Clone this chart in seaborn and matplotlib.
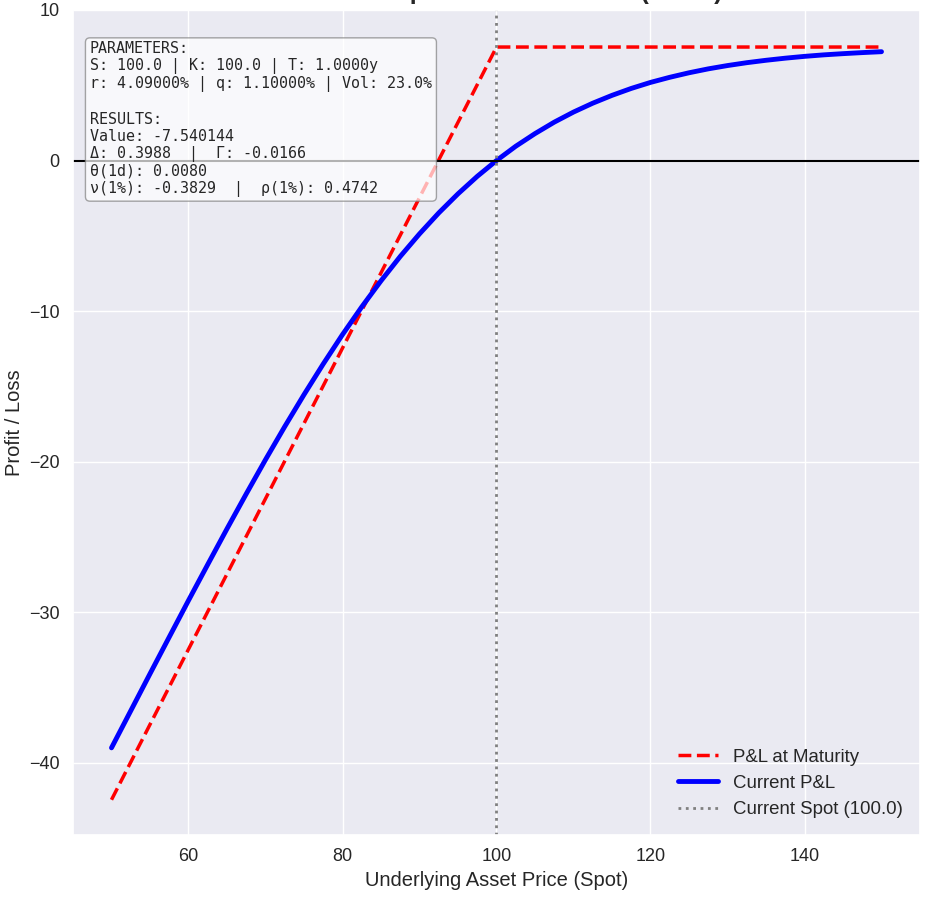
import numpy as np
import pandas as pd
import seaborn as sns
import matplotlib.pyplot as plt

# spot grid and P&L values
spot = [50, 52.5, 55, 57.5, 60, 62.5, 65, 67.5, 70, 72.5, 75, 77.5, 80, 82.5,
        85, 87.5, 90, 92.5, 95, 97.5, 100, 102.5, 105, 107.5, 110, 112.5, 115,
        117.5, 120, 122.5, 125, 127.5, 130, 132.5, 135, 137.5, 140, 142.5, 145,
        147.5, 150]
pnl_now = [-39.01, -36.55, -34.09, -31.65, -29.22, -26.83, -24.46, -22.14, -19.87,
           -17.67, -15.55, -13.51, -11.56, -9.72, -7.99, -6.37, -4.87, -3.48,
           -2.21, -1.05, 0.00, 0.95, 1.79, 2.55, 3.22, 3.81, 4.33, 4.79, 5.19,
           5.53, 5.83, 6.09, 6.31, 6.50, 6.66, 6.80, 6.92, 7.02, 7.10, 7.17, 7.23]

spot_exp = [50, 100, 150]
pnl_exp = [-42.46, 7.54, 7.54]

current_spot = 100.0
title = "Short Put Option Profit & Loss (Short)"

info = ("PARAMETERS:\n"
        "S: 100.0 | K: 100.0 | T: 1.0000y\n"
        "r: 4.09000% | q: 1.10000% | Vol: 23.0%\n"
        "\n"
        "RESULTS:\n"
        "Value: -7.540144\n"
        "Δ: 0.3988  |  Γ: -0.0166\n"
        "θ(1d): 0.0080\n"
        "ν(1%): -0.3829  |  ρ(1%): 0.4742")

sns.set_theme(style="darkgrid")
plt.rcParams['font.family'] = ['Liberation Sans', 'DejaVu Sans']

df_now = pd.DataFrame({"spot": spot, "pnl": pnl_now})
df_exp = pd.DataFrame({"spot": spot_exp, "pnl": pnl_exp})

fig = plt.figure(figsize=(9.31, 8.97), dpi=100)
ax = fig.add_axes([73/931, 62/897, 847/931, 825/897])

sns.lineplot(data=df_exp, x="spot", y="pnl", ax=ax, color="red", linestyle="--",
             linewidth=2.5, label="P&L at Maturity")
sns.lineplot(data=df_now, x="spot", y="pnl", ax=ax, color="blue", linewidth=3.5,
             label="Current P&L")
ax.axhline(0, color="black", linewidth=1.5)
ax.axvline(current_spot, color="gray", linestyle=":", linewidth=2,
           label=f"Current Spot ({current_spot})")

ax.set_xlim(45, 155)
ax.set_ylim(-44.8, 10)
ax.set_title(title, fontsize=18, fontweight="bold", pad=8)
ax.set_xlabel("Underlying Asset Price (Spot)", fontsize=14.5)
ax.set_ylabel("Profit / Loss", fontsize=14.5)
ax.tick_params(labelsize=13)

ax.text(0.02, 0.962, info, transform=ax.transAxes, fontsize=10.8, va="top",
        family="DejaVu Sans Mono", linespacing=1.17,
        bbox=dict(boxstyle="round", facecolor="white", alpha=0.7, edgecolor="gray"))

ax.legend(loc="lower right", fontsize=13.4, frameon=False, handlelength=2.2)

fig.savefig("out.png", dpi=100)
